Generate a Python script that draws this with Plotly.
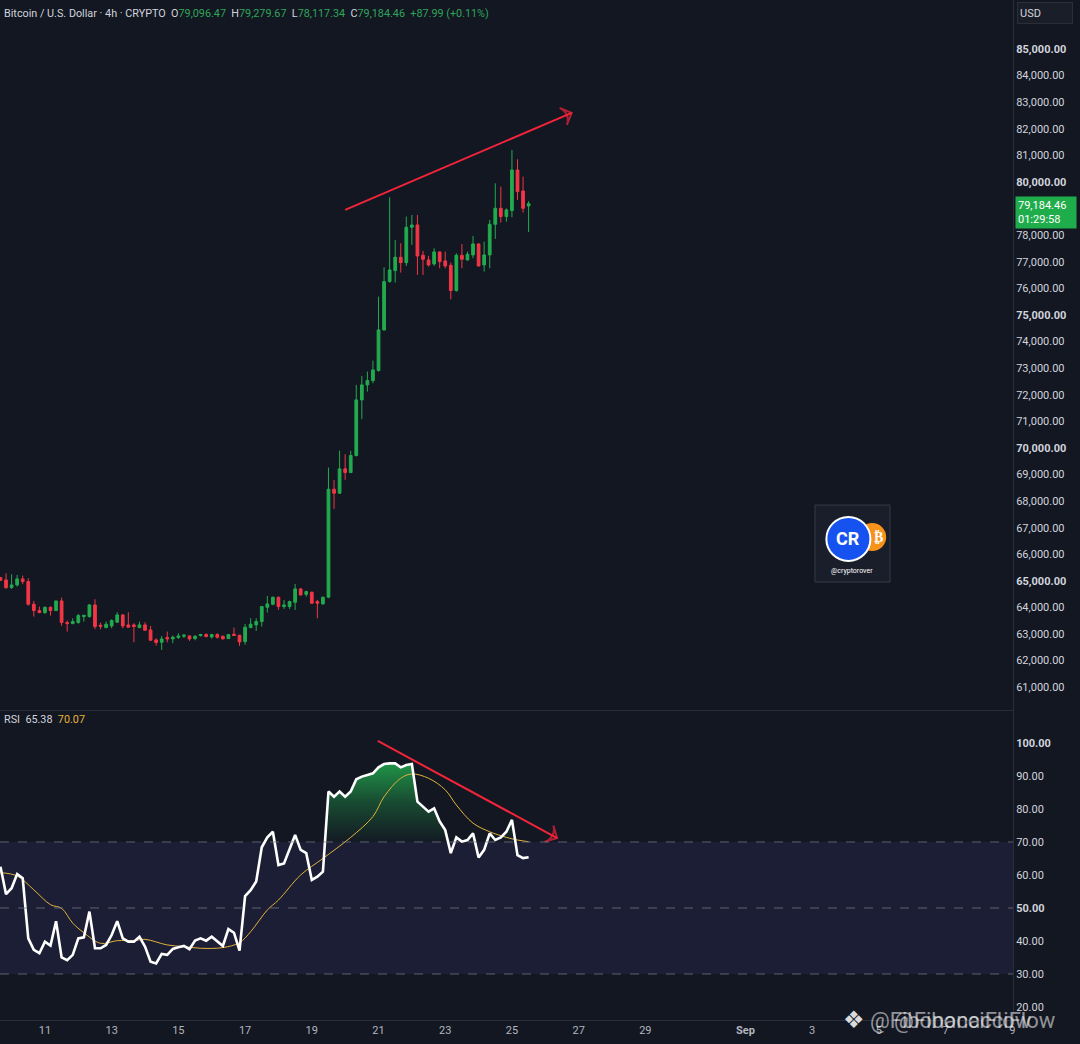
import numpy as np
import pandas as pd
import plotly.graph_objects as go

# BTCUSD 4h candles (oldest first)
start_time = "2024-08-09 16:00"

opens = [65122, 65034, 64746, 64846, 65072, 64972, 64119, 63881, 63806, 64007,
         63881, 64245, 63430, 63393, 63430, 63656, 63656, 64094, 63330, 63242,
         63305, 63443, 63718, 63343, 63343, 63242, 63343, 63155, 62779, 62691,
         62866, 62816, 62867, 62917, 62930, 62829, 62942, 62979, 62892, 62979,
         62917, 62829, 62992, 62955, 62716, 63242, 63343, 63468, 64007, 64119,
         64383, 64032, 64032, 64195, 64696, 64495, 64571, 64220, 64132, 64387,
         68446, 68296, 69211, 69073, 69712, 71804, 72368, 72531, 72907, 74435,
         76252, 76666, 77167, 76966, 78295, 78382, 77243, 77067, 76917, 77368,
         77030, 76867, 75915, 77243, 77067, 77255, 77669, 76879, 77255, 78408,
         79009, 78696, 78922, 80450, 79661, 79096.47]
highs = [65147, 65285, 65247, 65222, 65197, 65097, 64245, 64032, 64032, 64032,
         64245, 64370, 63505, 63593, 63756, 63718, 64119, 64307, 63430, 63468,
         63556, 63819, 63744, 63819, 63405, 63468, 63443, 63305, 62842, 62929,
         63092, 62942, 63029, 63004, 62930, 62955, 63004, 63029, 63004, 63029,
         62942, 62979, 63242, 62967, 63380, 63593, 63593, 64057, 64433, 64408,
         64408, 64282, 64257, 64884, 64721, 64633, 64596, 64282, 64408, 69261,
         68797, 69900, 69762, 69887, 72368, 72706, 72869, 73283, 75688, 76791,
         79422, 77819, 77693, 78696, 78758, 78758, 77406, 77218, 77506, 77381,
         77381, 76967, 77318, 77669, 77381, 77970, 77694, 77757, 78571, 79949,
         79824, 79009, 81202, 80851, 80200, 79279.67]
lows = [64997, 64696, 64696, 64784, 64871, 64069, 63656, 63781, 63756, 63693,
        63869, 63305, 63092, 63368, 63393, 63468, 63618, 63180, 63180, 63217,
        63217, 63443, 63217, 63255, 62691, 63217, 63117, 62741, 62566, 62403,
        62691, 62654, 62816, 62854, 62741, 62766, 62904, 62879, 62829, 62829,
        62804, 62816, 62942, 62553, 62603, 63217, 63117, 63280, 63806, 64082,
        63906, 63944, 63944, 63906, 64445, 64408, 64132, 63593, 64107, 64348,
        67707, 68271, 68797, 69048, 69674, 71077, 72117, 72431, 72869, 74410,
        76215, 76215, 76591, 76841, 77631, 76503, 76503, 76817, 76842, 76754,
        76754, 75589, 75877, 76754, 77042, 77130, 76817, 76629, 76754, 77857,
        78471, 78508, 78671, 79323, 78847, 78117.34]
closes = [65022, 64746, 64846, 65072, 64972, 64119, 63881, 63806, 64007, 63881,
          64245, 63430, 63393, 63468, 63693, 63706, 64094, 63280, 63293, 63368,
          63506, 63718, 63305, 63255, 63280, 63343, 63142, 62766, 62679, 62816,
          62816, 62879, 62930, 62955, 62816, 62917, 62979, 62904, 62979, 62879,
          62816, 62979, 62942, 62703, 63255, 63368, 63468, 64032, 64132, 64383,
          64032, 64094, 64220, 64696, 64470, 64596, 64157, 64157, 64383, 68446,
          68296, 69211, 69073, 69712, 71804, 72368, 72531, 72932, 74435, 76252,
          76691, 77167, 76966, 78295, 78382, 77217, 77092, 76879, 77368, 77005,
          76842, 75915, 77243, 77092, 77280, 77669, 76842, 77255, 78408, 79009,
          78696, 78947, 80450, 79636, 79009, 79184.46]

rsi = [62.5, 54.2, 56.0, 60.3, 59.0, 40.8, 37.3, 36.3, 39.8, 38.6,
       46.0, 35.0, 34.2, 35.8, 40.8, 41.1, 48.9, 37.8, 37.8, 38.8,
       41.8, 46.0, 40.8, 39.8, 39.8, 41.3, 38.3, 33.7, 33.2, 36.1,
       35.8, 37.6, 38.1, 38.5, 37.5, 40.1, 40.8, 40.1, 41.3, 39.8,
       38.5, 43.6, 42.5, 37.1, 53.6, 55.4, 58.0, 68.4, 71.4, 73.1,
       63.0, 63.5, 67.6, 72.1, 67.6, 66.6, 58.5, 59.5, 61.0, 85.3,
       83.7, 85.3, 83.7, 85.3, 89.0, 89.8, 90.3, 90.8, 92.6, 93.6,
       93.8, 93.8, 92.6, 93.3, 93.6, 82.2, 80.7, 79.2, 80.2, 76.2,
       73.6, 66.6, 71.4, 70.1, 70.6, 72.6, 65.3, 67.6, 72.6, 70.6,
       71.4, 73.1, 76.7, 66.0, 65.1, 65.38]

# RSI moving average, sampled at these bar indices
rsi_ma_idx = [0, 3, 6, 9, 11, 13, 15, 18, 21, 24, 26, 30, 33, 36, 40, 43, 45,
              48, 50, 54, 58, 63, 67, 69, 72, 74, 77, 80, 82, 85, 88, 91, 93, 95]
rsi_ma = [60.7, 59.7, 55.5, 51.0, 49.9, 45.4, 42.5, 39.3, 40.1, 40.1, 40.5,
          38.8, 38.3, 37.8, 38.0, 39.5, 42.8, 49.4, 52.4, 60.0, 65.0, 71.4,
          77.7, 83.7, 89.3, 90.6, 89.3, 85.8, 81.2, 75.7, 73.1, 71.4, 70.6, 70.07]

# hand-drawn trend lines (time, value)
price_trend_t = ["2024-08-20 00:00", "2024-08-26 19:00"]
price_trend_y = [78950, 82600]
rsi_trend_t = ["2024-08-20 23:30", "2024-08-26 08:30"]
rsi_trend_y = [100.6, 71.2]

day_ticks = ["2024-08-11", "2024-08-13", "2024-08-15", "2024-08-17", "2024-08-19",
             "2024-08-21", "2024-08-23", "2024-08-25", "2024-08-27", "2024-08-29",
             "2024-09-01", "2024-09-03", "2024-09-05", "2024-09-07", "2024-09-09"]
day_labels = ["11", "13", "15", "17", "19", "21", "23", "25", "27", "29",
              "<b>Sep</b>", "3", "5", "7", "9"]

# 79,000 sits under the last-price tag, so it is not listed
price_ticks = [61000, 62000, 63000, 64000, 65000, 66000, 67000, 68000, 69000,
               70000, 71000, 72000, 73000, 74000, 75000, 76000, 77000, 78000,
               80000, 81000, 82000, 83000, 84000, 85000]
rsi_ticks = [20, 30, 40, 50, 60, 70, 80, 90, 100]

BG = "#131722"
GRID = "#2a2e39"
TXT = "#b2b5be"
UP = "#22ab4e"
DOWN = "#f23645"
FONT = "Roboto"

times = pd.date_range(start_time, periods=len(closes), freq="4h")

fig = go.Figure()

fig.add_trace(go.Candlestick(
    x=times, open=opens, high=highs, low=lows, close=closes,
    increasing=dict(line=dict(color=UP, width=1), fillcolor=UP),
    decreasing=dict(line=dict(color=DOWN, width=1), fillcolor=DOWN),
    whiskerwidth=0, xaxis="x", yaxis="y", showlegend=False, hoverinfo="skip"))

fig.add_trace(go.Scatter(
    x=pd.to_datetime(price_trend_t), y=price_trend_y, mode="lines+markers",
    line=dict(color="#f2243a", width=2),
    marker=dict(symbol=["circle", "arrow-wide-open"], size=[0, 13], color="#f2243a",
                angleref="previous", line=dict(width=2, color="#f2243a")),
    xaxis="x", yaxis="y", showlegend=False, hoverinfo="skip"))

# RSI pane: overbought fill first (base line then clipped rsi)
rsi_arr = np.array(rsi)
fig.add_trace(go.Scatter(x=times, y=[70] * len(rsi), mode="lines",
                         line=dict(width=0), xaxis="x2", yaxis="y2",
                         showlegend=False, hoverinfo="skip"))
fig.add_trace(go.Scatter(
    x=times, y=np.maximum(rsi_arr, 70), mode="lines", line=dict(width=0),
    fill="tonexty",
    fillgradient=dict(type="vertical", start=70, stop=94,
                      colorscale=[[0, "rgba(34,171,78,0.02)"],
                                  [0.5, "rgba(34,171,78,0.35)"],
                                  [1, "rgba(34,171,78,0.85)"]]),
    xaxis="x2", yaxis="y2", showlegend=False, hoverinfo="skip"))

fig.add_trace(go.Scatter(
    x=times[rsi_ma_idx], y=rsi_ma, mode="lines",
    line=dict(color="#e3b23c", width=1, shape="spline"),
    xaxis="x2", yaxis="y2", showlegend=False, hoverinfo="skip"))
fig.add_trace(go.Scatter(
    x=times, y=rsi, mode="lines", line=dict(color="#ffffff", width=2.6),
    xaxis="x2", yaxis="y2", showlegend=False, hoverinfo="skip"))

fig.add_trace(go.Scatter(
    x=pd.to_datetime(rsi_trend_t), y=rsi_trend_y, mode="lines+markers",
    line=dict(color="#f2243a", width=2),
    marker=dict(symbol=["circle", "arrow-wide-open"], size=[0, 13], color="#f2243a",
                angleref="previous", line=dict(width=2, color="#f2243a")),
    xaxis="x2", yaxis="y2", showlegend=False, hoverinfo="skip"))

xrange = ["2024-08-09 15:40", "2024-09-09 00:30"]

def price_label(v):
    s = f"{v:,.2f}"
    return f"<b>{s}</b>" if v % 5000 == 0 else s

def rsi_label(v):
    s = f"{v:.2f}"
    return f"<b>{s}</b>" if v in (50, 100) else s

fig.update_layout(
    width=1080, height=1044,
    margin=dict(l=0, r=67, t=0, b=24),
    paper_bgcolor=BG, plot_bgcolor=BG,
    font=dict(family=FONT, size=11, color=TXT),
    xaxis=dict(domain=[0, 1], anchor="y", range=xrange, rangeslider=dict(visible=False),
               showgrid=False, showticklabels=False, showline=True, linecolor=GRID,
               zeroline=False, ticks=""),
    xaxis2=dict(domain=[0, 1], anchor="y2", matches="x", range=xrange,
                showgrid=False, showline=True, linecolor=GRID, zeroline=False,
                tickvals=pd.to_datetime(day_ticks), ticktext=day_labels, ticks="",
                tickfont=dict(size=11, color=TXT)),
    yaxis=dict(domain=[0.304, 1], side="right", range=[60146, 86842],
               tickvals=price_ticks, ticktext=[price_label(v) for v in price_ticks],
               showgrid=False, showline=True, linecolor=GRID, zeroline=False,
               ticks="", tickfont=dict(size=11, color="#d1d4dc")),
    yaxis2=dict(domain=[0, 0.303], side="right", range=[16.06, 109.7],
                tickvals=rsi_ticks, ticktext=[rsi_label(v) for v in rsi_ticks],
                showgrid=False, showline=True, linecolor=GRID, zeroline=False,
                ticks="", tickfont=dict(size=11, color="#d1d4dc")),
)

# RSI band and levels
fig.add_shape(type="rect", xref="x2 domain", yref="y2", x0=0, x1=1, y0=30, y1=70,
              fillcolor="rgba(100,100,220,0.10)", line=dict(width=0), layer="below")
for lvl in (70, 50, 30):
    fig.add_shape(type="line", xref="x2 domain", yref="y2", x0=0, x1=1, y0=lvl, y1=lvl,
                  line=dict(color="rgba(120,123,134,0.75)", width=1, dash="dash"))

# header legend
g = "#2ea65a"
w = "#d1d4dc"
gap = "&nbsp;&nbsp;"
hdr = (f"<span style='color:{w}'>Bitcoin / U.S. Dollar · 4h · CRYPTO</span>{gap}"
       f"<span style='color:{w}'>O</span><span style='color:{g}'>79,096.47</span>{gap}"
       f"<span style='color:{w}'>H</span><span style='color:{g}'>79,279.67</span>{gap}"
       f"<span style='color:{w}'>L</span><span style='color:{g}'>78,117.34</span>{gap}"
       f"<span style='color:{w}'>C</span><span style='color:{g}'>79,184.46</span>{gap}"
       f"<span style='color:{g}'>+87.99 (+0.11%)</span>")
fig.add_annotation(xref="paper", yref="paper", x=0.002, y=0.987, xanchor="left",
                   yanchor="middle", text=hdr, showarrow=False,
                   font=dict(size=10.8, family=FONT))
fig.add_annotation(xref="paper", yref="paper", x=0.002, y=0.2946, xanchor="left",
                   yanchor="middle", showarrow=False, font=dict(size=10.8, family=FONT),
                   text=f"<span style='color:{w}'>RSI</span>{gap}"
                        f"<span style='color:{w}'>65.38</span>{gap}"
                        "<span style='color:#e3b23c'>70.07</span>")

# last price tag
fig.add_annotation(xref="paper", yref="y", x=1, y=closes[-1], xanchor="left",
                   yanchor="top", xshift=2, yshift=8, showarrow=False, align="left",
                   text="79,184.46<br>01:29:58", bgcolor="#1fad4c", borderpad=2,
                   width=56, font=dict(size=11, color="#ffffff", family=FONT))
# currency box
fig.add_annotation(xref="paper", yref="paper", x=1, y=0.9985, xanchor="left",
                   yanchor="top", xshift=4, showarrow=False, align="left",
                   text="USD", width=50, height=16, bgcolor="#1a1e29",
                   bordercolor="#2a2e39", borderwidth=1, borderpad=2,
                   font=dict(size=11, color="#d1d4dc", family=FONT))

# cryptorover watermark
fig.add_shape(type="rect", xref="paper", yref="paper", x0=0.8045, x1=0.8786,
              y0=0.4294, y1=0.5049, fillcolor="#1a1e2b",
              line=dict(color="#363a45", width=1))
fig.add_shape(type="circle", xref="paper", yref="paper", xsizemode="pixel",
              ysizemode="pixel", xanchor=0.861, yanchor=0.4735,
              x0=-14, x1=14, y0=-14, y1=14, fillcolor="#f7931a", line=dict(width=0))
fig.add_shape(type="circle", xref="paper", yref="paper", xsizemode="pixel",
              ysizemode="pixel", xanchor=0.8375, yanchor=0.4716,
              x0=-22, x1=22, y0=-22, y1=22, fillcolor="#1652f0",
              line=dict(color="#ffffff", width=2))
fig.add_annotation(xref="paper", yref="paper", x=0.8375, y=0.4716, showarrow=False,
                   xanchor="center", yanchor="middle",
                   text="<b>CR</b>", font=dict(size=18, color="#ffffff", family=FONT))
fig.add_annotation(xref="paper", yref="paper", x=0.8672, y=0.4735, showarrow=False,
                   xanchor="center", yanchor="middle",
                   text="<b>₿</b>", font=dict(size=14, color="#ffffff", family="DejaVu Sans"))
fig.add_annotation(xref="paper", yref="paper", x=0.8415, y=0.4402, showarrow=False,
                   xanchor="center", yanchor="middle",
                   text="@cryptorover", font=dict(size=7, color="#ffffff", family=FONT))

# bottom-right watermark
fig.add_annotation(xref="paper", yref="paper", x=0.843, y=0.0, xanchor="center",
                   yanchor="middle", showarrow=False, text="❖",
                   font=dict(size=24, color="rgba(255,255,255,0.85)", family="DejaVu Sans"))
fig.add_annotation(xref="paper", yref="paper", x=0.857, y=0.0, xanchor="left",
                   yanchor="middle", showarrow=False, text="@FibonacciFlow",
                   font=dict(size=22, color="rgba(255,255,255,0.55)", family=FONT))
fig.add_annotation(xref="paper", yref="paper", x=0.857, y=0.0, xanchor="left",
                   yanchor="middle", xshift=24, showarrow=False, text="@FibonacciFlow",
                   font=dict(size=22, color="rgba(255,255,255,0.55)", family=FONT))

fig.write_html("out.html", config={"displayModeBar": False},
               post_script="document.body.style.margin='0';"
                           "document.body.style.overflow='hidden';")
